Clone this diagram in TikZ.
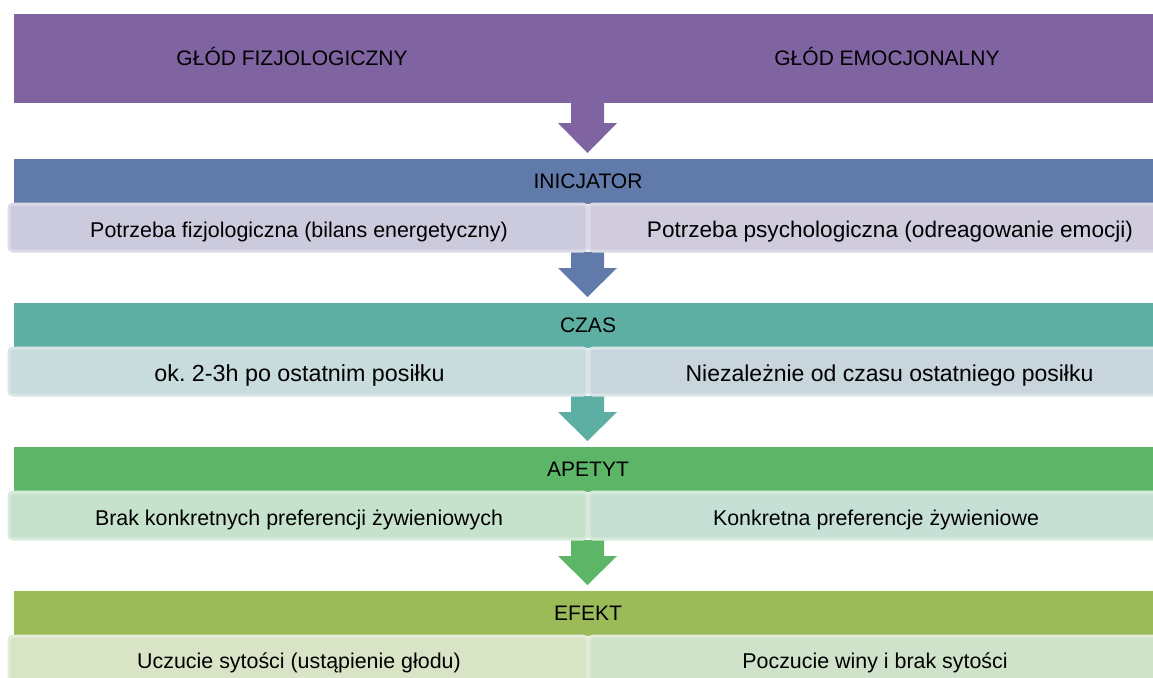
\documentclass[tikz,border=0pt]{standalone}
\usepackage{fontspec}
\setmainfont{Liberation Sans}
\frenchspacing
\definecolor{cPurple}{HTML}{8064A2}
\definecolor{cBlue}{HTML}{607AA9}
\definecolor{cTeal}{HTML}{5EAFA3}
\definecolor{cGreen}{HTML}{5DB568}
\definecolor{cOlive}{HTML}{9BBB59}
\definecolor{aL}{HTML}{CBCBDD}\definecolor{aR}{HTML}{D0CCDE}\definecolor{aS}{HTML}{DCDAE7}
\definecolor{bL}{HTML}{C8DCDD}\definecolor{bR}{HTML}{C8D5DD}\definecolor{bS}{HTML}{D8E4E6}
\definecolor{dL}{HTML}{C7E2CC}\definecolor{dR}{HTML}{C6E0D6}\definecolor{dS}{HTML}{D7EADB}
\definecolor{eL}{HTML}{D9E4C6}\definecolor{eR}{HTML}{CFE2CA}\definecolor{eS}{HTML}{E3EBD7}
\newcommand{\blockarr}[4]{\fill[#1,rounded corners=0pt] (571,#2) -- (604,#2) -- (604,#3) -- (617,#3) -- (587.5,#4) -- (558,#3) -- (571,#3) -- cycle;}
\begin{document}
\begin{tikzpicture}[x=1pt,y=-1pt,
  txt/.style={inner sep=0pt, anchor=base, font=\fontsize{21}{25}\selectfont, text=black},
  subtxt/.style={inner sep=0pt, anchor=base, font=\fontsize{21.4}{25}\selectfont, text=black},
  bigtxt/.style={inner sep=0pt, anchor=base, font=\fontsize{#1}{25}\selectfont, text=black},
  hdrbox/.style={rectangle, inner sep=0pt, minimum width=1156pt, minimum height=45pt},
  cellbox/.style={rectangle, rounded corners=4pt, line width=3pt, inner sep=0pt, minimum height=47pt}]
\useasboundingbox (0,0) rectangle (1153,677);
\clip (0,0) rectangle (1153,677);

% top purple box
\node[hdrbox, fill=cPurple, minimum height=89pt] (top) at (592,58.5) {};
\node[txt] (tl) at (292,65.5) {GŁÓD FIZJOLOGICZNY};
\node[txt] (tr) at (887,65.5) {GŁÓD EMOCJONALNY};

% arrows
\blockarr{cPurple}{102}{123}{153}
\blockarr{cBlue}{252}{268}{297}
\blockarr{cTeal}{396}{412}{441}
\blockarr{cGreen}{540}{556}{585}

% row 1
\node[hdrbox, fill=cBlue] (h1) at (592,181.5) {};
\node[cellbox, fill=aL, draw=aS, minimum width=578pt] (l1) at (298,227.5) {};
\node[cellbox, fill=aR, draw=aS, minimum width=600pt] (r1) at (889,227.5) {};
\node[txt] (h1t) at (588,188.3) {INICJATOR};
\node[subtxt] (l1t) at (299,237.3) {Potrzeba fizjologiczna (bilans energetyczny)};
\node[bigtxt=22.6] (r1t) at (890,237.6) {Potrzeba psychologiczna (odreagowanie emocji)};

% row 2
\node[hdrbox, fill=cTeal] (h2) at (592,325.5) {};
\node[cellbox, fill=bL, draw=bS, minimum width=578pt] (l2) at (298,371.5) {};
\node[cellbox, fill=bR, draw=bS, minimum width=600pt] (r2) at (889,371.5) {};
\node[txt] (h2t) at (588,332.3) {CZAS};
\node[bigtxt=23.3] (l2t) at (299.5,381.8) {ok. 2-3h po ostatnim posiłku};
\node[bigtxt=23] (r2t) at (889.5,381.8) {Niezależnie od czasu ostatniego posiłku};

% row 3
\node[hdrbox, fill=cGreen] (h3) at (592,469.5) {};
\node[cellbox, fill=dL, draw=dS, minimum width=578pt] (l3) at (298,515.5) {};
\node[cellbox, fill=dR, draw=dS, minimum width=600pt] (r3) at (889,515.5) {};
\node[txt] (h3t) at (588,476.5) {APETYT};
\node[subtxt] (l3t) at (299,525.3) {Brak konkretnych preferencji żywieniowych};
\node[subtxt] (r3t) at (876,525.3) {Konkretna preferencje żywieniowe};

% row 4
\node[hdrbox, fill=cOlive] (h4) at (592,613.5) {};
\node[cellbox, fill=eL, draw=eS, minimum width=578pt] (l4) at (298,659.5) {};
\node[cellbox, fill=eR, draw=eS, minimum width=600pt] (r4) at (889,659.5) {};
\node[txt] (h4t) at (588,620.5) {EFEKT};
\node[subtxt] (l4t) at (299,668.8) {Uczucie sytości (ustąpienie głodu)};
\node[subtxt] (r4t) at (875,668.8) {Poczucie winy i brak sytości};
\end{tikzpicture}
\end{document}
